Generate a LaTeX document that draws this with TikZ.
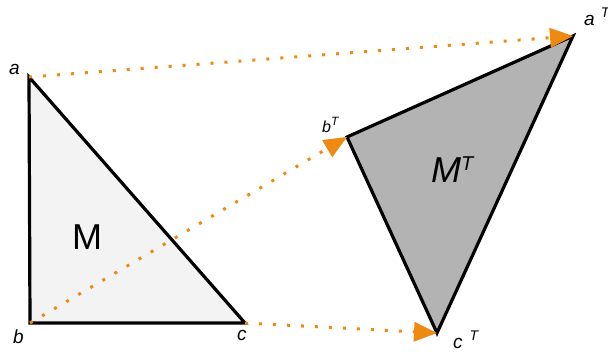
\documentclass[tikz,border=0pt]{standalone}
\usepackage{fontspec}
\setmainfont{Liberation Sans}
\usetikzlibrary{arrows.meta}
\definecolor{arrorange}{HTML}{EE8A12}
\definecolor{lightfill}{HTML}{F3F3F3}
\definecolor{darkfill}{HTML}{B3B3B3}
\begin{document}
\begin{tikzpicture}[x=1pt,y=-1pt,
  tri/.style={draw=black,line width=3.2pt,line join=miter},
  maparrow/.style={draw=arrorange,line width=3pt,dash pattern=on 3pt off 11pt,
    -{Triangle[length=23pt,width=20pt,fill=arrorange,line width=0pt]}},
  lbl/.style={inner sep=0pt,anchor=base west,font=\fontsize{19}{20}\selectfont\itshape},
  big/.style={inner sep=0pt,anchor=base west,font=\fontsize{36}{38}\selectfont}
]
\useasboundingbox (0,0) rectangle (608,351);
\coordinate (a) at (29,77);
\coordinate (b) at (30,323);
\coordinate (c) at (245,323);
\coordinate (bT) at (347,137);
\coordinate (aT) at (573,36);
\coordinate (cT) at (437,333);
\draw[tri,fill=lightfill] (a) -- (b) -- (c) -- cycle;
\draw[tri,fill=darkfill] (bT) -- (aT) -- (cT) -- cycle;
\draw[maparrow] (a) -- (aT);
\draw[maparrow] (b) -- (bT);
\draw[maparrow] (c) -- (cT);
\node[big] (M) at (72,249) {M};
\node[big] (MT) at (431,182) {\itshape M\raisebox{0.33em}{\fontsize{20}{20}\selectfont T}};
\node[lbl] (la) at (9,74) {a};
\node[lbl] (lb) at (13,343) {b};
\node[lbl] (lc) at (237,340) {c};
\node[lbl,font=\fontsize{16}{17}\selectfont\itshape] (lbT) at (322,132) {b\raisebox{0.42em}{\fontsize{12}{12}\selectfont T}};
\node[lbl] (laT) at (584,25) {a\hspace{6pt}\raisebox{0.42em}{\fontsize{14}{14}\selectfont T}};
\node[lbl] (lcT) at (453,348) {c\hspace{7pt}\raisebox{0.42em}{\fontsize{14}{14}\selectfont T}};
\end{tikzpicture}
\end{document}
